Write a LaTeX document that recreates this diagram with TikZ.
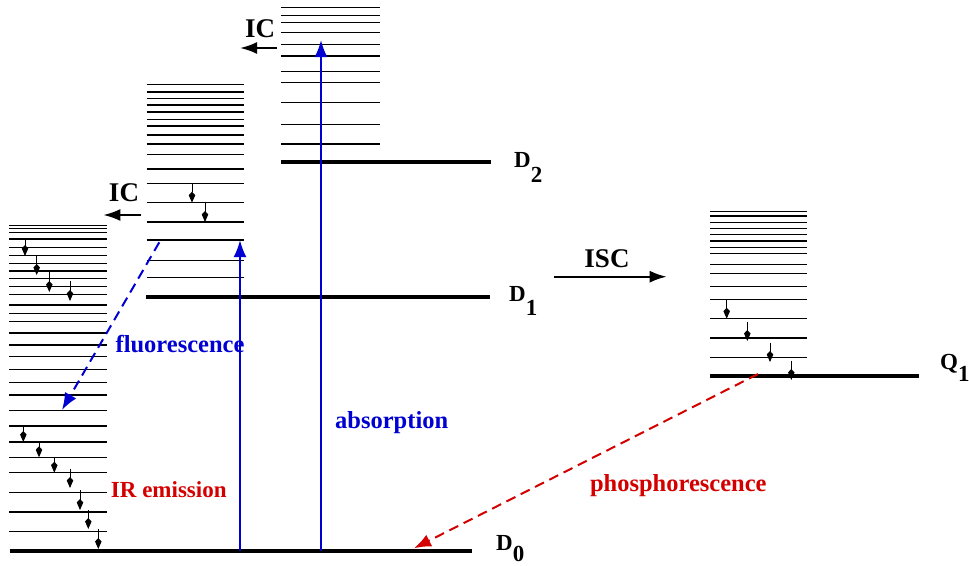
\documentclass[tikz,border=0pt]{standalone}
\usepackage{fontspec}
\setmainfont{Liberation Serif}
\usetikzlibrary{arrows.meta, calc}
\definecolor{radblue}{HTML}{0000D2}
\definecolor{nonradred}{HTML}{D40000}

\begin{document}
\begin{tikzpicture}[x=1pt, y=-1pt,
  sublevel/.style={line width=1.2pt},
  level/.style={line width=3.8pt},
  relax/.style={line width=1pt, -{Kite[length=11pt,width=6.5pt,inset=3.5pt]}},
  transfer/.style={line width=2.2pt, -{Latex[length=17pt,width=12pt]}},
  absorb/.style={radblue, line width=2.2pt, -{Latex[length=17pt,width=13pt]}},
  emitdash/.style={line width=2pt, dash pattern=on 10pt off 6pt, -{Latex[length=17pt,width=13pt]}},
  statelabel/.style={anchor=base west, inner sep=0pt, font=\fontsize{23}{23}\selectfont\bfseries},
  proclabel/.style={anchor=base, inner sep=0pt, font=\fontsize{27}{27}\selectfont\bfseries},
  colorlabel/.style={anchor=base, inner sep=0pt, font=\fontsize{24.5}{24.5}\selectfont\bfseries}]
  \useasboundingbox (0,0) rectangle (969,565);

  % vibrational sublevels of D2
  \foreach \y in {7.3,15.7,22.7,32.7,44.3,56,71.7,82.7,102.7,124.7,144}
    \draw[sublevel] (281,\y) -- (380,\y);
  % vibrational sublevels of D1
  \foreach \y in {84.7,92,98.7,105,112,119.3,126,135,144,154.7,169,183.3,202.7,222,240,260.7,277.7}
    \draw[sublevel] (146.7,\y) -- (244,\y);
  % vibrational sublevels of D0
  \foreach \y in {225.7,228.3,232.3,239,247.7,255.7,263.3,271,278.3,286.3,294.3,305,313.7,321.7,
                  333,345,356.7,369.3,382.3,395,410.7,426,442,457.3,472.7,492.3,512,531.3}
    \draw[sublevel] (9.3,\y) -- (107.3,\y);
  % vibrational sublevels of Q1
  \foreach \y in {211.7,216,222.7,228.3,234.7,241,247.7,253.7,264.3,273.7,286.7,299.3,318.7,338,357.7}
    \draw[sublevel] (710,\y) -- (807.3,\y);

  % electronic levels
  \draw[level] (281,162.3) coordinate (d2w) -- (490.7,162.3) coordinate (d2);
  \draw[level] (146,297.3) coordinate (d1w) -- (490,297.3) coordinate (d1);
  \draw[level] (10,550.7) coordinate (d0w) -- (472,550.7) coordinate (d0);
  \draw[level] (710,375.7) coordinate (q1w) -- (919.3,375.7) coordinate (q1);

  \node[statelabel] (d2lbl) at (514,167.5) {D\raisebox{-15pt}{2}};
  \node[statelabel] (d1lbl) at (509,301) {D\raisebox{-14pt}{1}};
  \node[statelabel] (d0lbl) at (496,550) {D\raisebox{-11pt}{0}};
  \node[statelabel] (q1lbl) at (940,369.5) {Q\raisebox{-12pt}{1}};

  % vibrational relaxation steps
  \foreach \x/\ya/\yb in {192/183.3/202.7, 205/202.7/222,
                          25/238/256, 36.7/256/275, 49.3/272/292, 70/281/301,
                          23.3/426/442, 39/442/457.3, 54.3/457.3/472.7, 70/469/488,
                          80/490/510, 88.3/510/529, 98.3/529/549,
                          726.7/299.3/318.7, 747.3/321.7/341, 770/342.7/362, 791.3/360.7/380}
    \draw[relax] (\x,\ya) -- (\x,\yb);

  % absorption
  \coordinate (abs1) at (240,550.7);
  \coordinate (abs1top) at (240,240);
  \coordinate (abs2) at (321,550.7);
  \coordinate (abs2top) at (321,40);
  \draw[absorb] (abs1) -- (abs1top);
  \draw[absorb] (abs2) -- (abs2top);
  \node[colorlabel, radblue] (abslbl) at (391.7,428) {absorption};

  % fluorescence
  \coordinate (flstart) at (159.3,242.3);
  \coordinate (flend) at (62,410);
  \draw[emitdash, radblue] (flstart) -- (flend);
  \node[colorlabel, radblue] (fllbl) at (180,352) {fluorescence};

  % phosphorescence
  \coordinate (phstart) at (758,374);
  \coordinate (phend) at (414,548.3);
  \draw[emitdash, nonradred] (phstart) -- (phend);
  \node[colorlabel, nonradred] (phlbl) at (678.3,491) {phosphorescence};

  \node[anchor=base, inner sep=0pt, font=\fontsize{23}{23}\selectfont\bfseries, nonradred]
       (irlbl) at (168.8,497.3) {IR emission};

  % internal conversion and intersystem crossing
  \coordinate (ic2a) at (277,48);
  \coordinate (ic2b) at (240,48);
  \draw[transfer] (ic2a) -- (ic2b);
  \node[proclabel] (ic2lbl) at (260,37.3) {IC};
  \coordinate (ic1a) at (141,215);
  \coordinate (ic1b) at (103.3,215);
  \draw[transfer] (ic1a) -- (ic1b);
  \node[proclabel] (ic1lbl) at (124,201) {IC};
  \coordinate (isca) at (554,276.7);
  \coordinate (iscb) at (666.7,276.7);
  \draw[transfer] (isca) -- (iscb);
  \node[proclabel] (isclbl) at (607,267) {ISC};
\end{tikzpicture}
\end{document}
